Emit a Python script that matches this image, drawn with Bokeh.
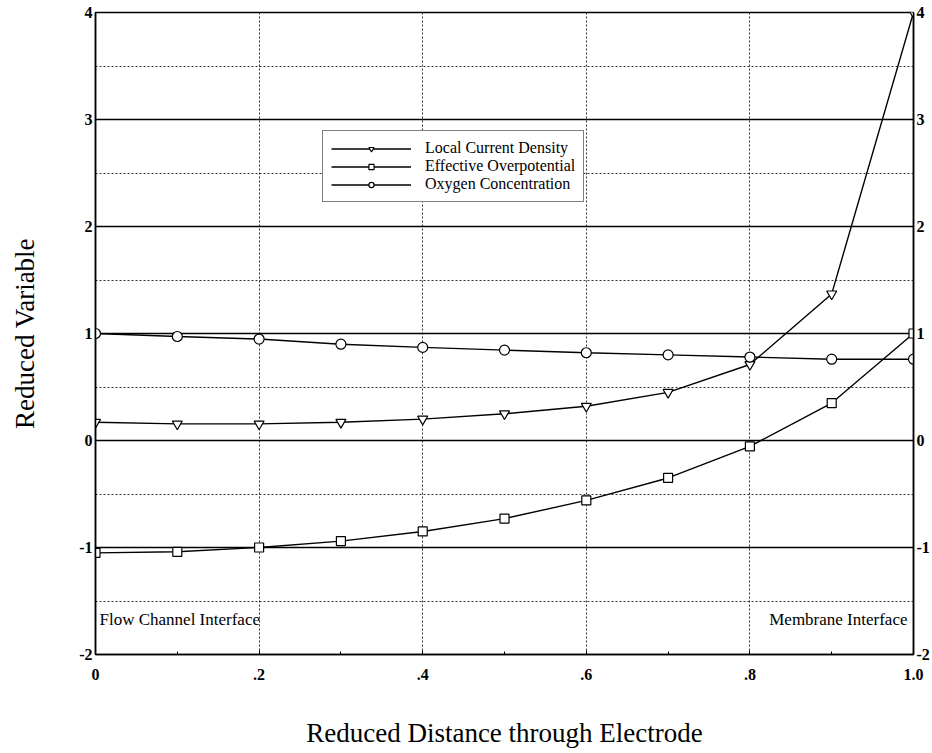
from bokeh.plotting import figure
from bokeh.models import (LinearAxis, FixedTicker, Legend, LegendItem, Label)
from bokeh.embed import file_html
from bokeh.resources import INLINE

# ---- data ----
x_vals = [0.0, 0.1, 0.2, 0.3, 0.4, 0.5, 0.6, 0.7, 0.8, 0.9, 1.0]
local_current = [0.17, 0.155, 0.155, 0.17, 0.20, 0.25, 0.32, 0.45, 0.71, 1.37, 4.0]
eff_overpot = [-1.05, -1.04, -1.0, -0.94, -0.85, -0.73, -0.56, -0.35, -0.055, 0.35, 1.0]
oxygen = [1.0, 0.972, 0.948, 0.90, 0.87, 0.845, 0.82, 0.80, 0.78, 0.76, 0.76]

x_ticks = [0.0, 0.2, 0.4, 0.6, 0.8, 1.0]
x_tick_labels = ["0", ".2", ".4", ".6", ".8", "1.0"]
x_minor = [0.1, 0.3, 0.5, 0.7, 0.9]
x_grid = [0.2, 0.4, 0.6, 0.8]
y_ticks = [-2, -1, 0, 1, 2, 3, 4]
y_tick_labels = ["-2", "-1", "0", "1", "2", "3", "4"]
y_minor = [-1.5, -0.5, 0.5, 1.5, 2.5, 3.5]

series_names = ["Local Current Density", "Effective Overpotential", "Oxygen Concentration"]
side_notes = ["Flow Channel Interface", "Membrane Interface"]

SERIF = "Liberation Serif"

p = figure(frame_width=818, frame_height=642,
           x_range=(0, 1), y_range=(-2, 4),
           output_backend="svg", toolbar_location=None,
           min_border_left=95, min_border_right=10,
           min_border_top=12, min_border_bottom=10,
           background_fill_color="white", border_fill_color="white")

p.outline_line_color = "black"
p.outline_line_width = 1.5

# axes
xa = p.xaxis[0]
xa.ticker = FixedTicker(ticks=x_ticks, minor_ticks=x_minor)
xa.major_label_overrides = {t: l for t, l in zip(x_ticks, x_tick_labels)}
xa.axis_label = "Reduced Distance through Electrode"

ya = p.yaxis[0]
ya.ticker = FixedTicker(ticks=y_ticks, minor_ticks=y_minor)
ya.major_label_overrides = {t: l for t, l in zip(y_ticks, y_tick_labels)}
ya.axis_label = "Reduced Variable"

ry = LinearAxis(ticker=FixedTicker(ticks=y_ticks, minor_ticks=y_minor))
ry.major_label_overrides = {t: l for t, l in zip(y_ticks, y_tick_labels)}
p.add_layout(ry, "right")

for ax in [xa, ya, ry]:
    ax.axis_line_color = "black"
    ax.axis_line_width = 1.5
    ax.major_tick_in = 4
    ax.major_tick_out = 0
    ax.minor_tick_in = 3
    ax.minor_tick_out = 0
    ax.major_tick_line_color = "black"
    ax.minor_tick_line_color = "black"
    ax.major_label_text_font = SERIF
    ax.major_label_text_font_style = "bold"
    ax.major_label_text_font_size = "16px"
    ax.major_label_text_color = "black"
    ax.axis_label_text_font = SERIF
    ax.axis_label_text_font_style = "normal"
    ax.axis_label_text_font_size = "27px"
    ax.axis_label_text_color = "black"

for ax in [ya, ry]:
    ax.minor_tick_line_color = None
    ax.major_tick_in = 0
    ax.major_label_standoff = 3

xa.major_label_standoff = 14
xa.axis_label_standoff = 35
ya.axis_label_standoff = 36

# grids
p.xgrid.ticker = FixedTicker(ticks=x_grid)
p.xgrid.grid_line_color = "black"
p.xgrid.grid_line_dash = "2 2"
p.xgrid.grid_line_width = 1
p.xgrid.grid_line_alpha = 0.8

p.ygrid.ticker = FixedTicker(ticks=y_ticks, minor_ticks=y_minor)
p.ygrid.grid_line_color = "black"
p.ygrid.grid_line_width = 1.4
p.ygrid.grid_line_alpha = 1.0
p.ygrid.minor_grid_line_color = "black"
p.ygrid.minor_grid_line_dash = "2 2"
p.ygrid.minor_grid_line_width = 1
p.ygrid.minor_grid_line_alpha = 0.8

# series
l1 = p.line(x_vals, local_current, line_color="black", line_width=1.4)
m1 = p.scatter(x_vals, local_current, marker="inverted_triangle", size=10,
               line_color="black", fill_color="white", line_width=1.2)
l2 = p.line(x_vals, eff_overpot, line_color="black", line_width=1.4)
m2 = p.scatter(x_vals, eff_overpot, marker="square", size=9,
               line_color="black", fill_color="white", line_width=1.2)
l3 = p.line(x_vals, oxygen, line_color="black", line_width=1.4)
m3 = p.scatter(x_vals, oxygen, marker="circle", size=10,
               line_color="black", fill_color="white", line_width=1.2)

legend = Legend(items=[
    LegendItem(label=series_names[0], renderers=[l1, m1]),
    LegendItem(label=series_names[1], renderers=[l2, m2]),
    LegendItem(label=series_names[2], renderers=[l3, m3]),
], location=(227, 452))
legend.border_line_color = "black"
legend.border_line_width = 1.2
legend.background_fill_color = "white"
legend.background_fill_alpha = 1.0
legend.label_text_font = SERIF
legend.label_text_font_size = "16px"
legend.label_text_color = "black"
legend.glyph_width = 80
legend.glyph_height = 13
legend.label_height = 13
legend.spacing = 0
legend.padding = 8
legend.margin = 0
legend.label_standoff = 14
p.add_layout(legend, "center")

# side notes (kept inside the frame so they are not clipped)
p.add_layout(Label(x=4, y=35, x_units="screen", y_units="screen",
                   text=side_notes[0],
                   text_font=SERIF, text_font_size="17px", text_color="black",
                   text_align="left", text_baseline="middle"))
p.add_layout(Label(x=812, y=35, x_units="screen", y_units="screen",
                   text=side_notes[1],
                   text_font=SERIF, text_font_size="17px", text_color="black",
                   text_align="right", text_baseline="middle"))

open("out.html", "w").write(file_html(p, INLINE))
